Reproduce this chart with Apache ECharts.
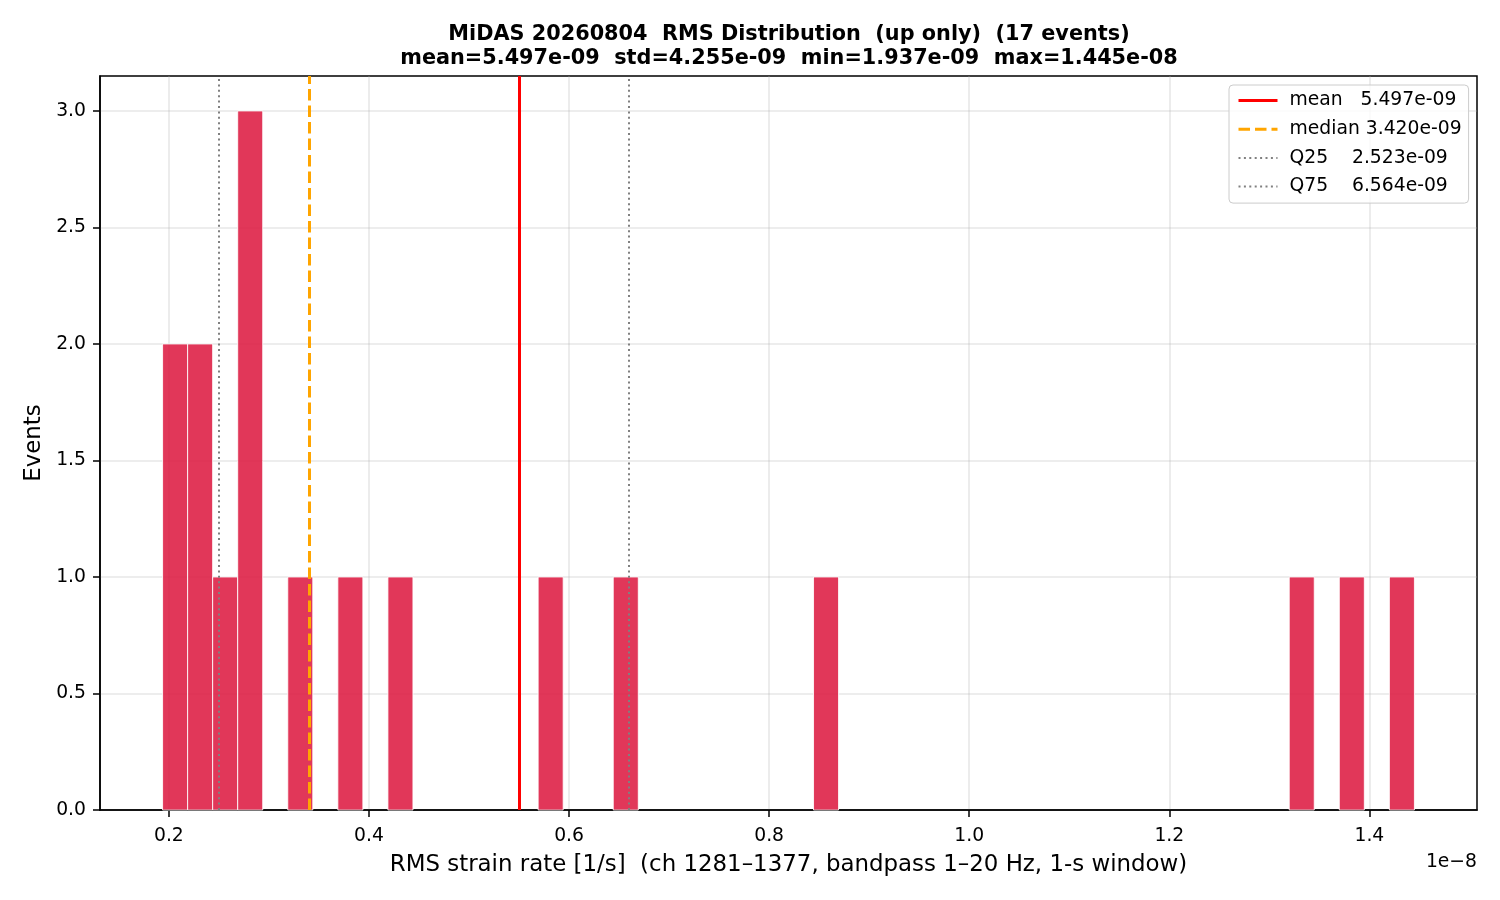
<!DOCTYPE html>
<html>
<head>
<meta charset="utf-8">
<title>MiDAS RMS Distribution</title>
<script src="https://cdn.jsdelivr.net/npm/echarts@6/dist/echarts.min.js"></script>
<style>
    html, body { margin: 0; padding: 0; background: #fff; }
    #chart { width: 1500px; height: 900px; }
</style>
</head>
<body>
<div id="chart"></div>
<script>
// histogram of RMS strain rate, 50 bins between min and max
var rmsMin = 1.937e-9;
var rmsMax = 1.445e-8;
var binCounts = [
    2, 2, 1, 3, 0, 1, 0, 1, 0, 1,
    0, 0, 0, 0, 0, 1, 0, 0, 1, 0,
    0, 0, 0, 0, 0, 0, 1, 0, 0, 0,
    0, 0, 0, 0, 0, 0, 0, 0, 0, 0,
    0, 0, 0, 0, 0, 1, 0, 1, 0, 1
];

// summary stats
var statNames = ['mean', 'median', 'Q25', 'Q75'];
var statValues = [5.497e-9, 3.420e-9, 2.523e-9, 6.564e-9];
var statStd = 4.255e-9;
var nEvents = 17;

// axis ticks (x in units of 1e-8)
var xTicks = [0.2, 0.4, 0.6, 0.8, 1.0, 1.2, 1.4];
var yTicks = [0, 0.5, 1.0, 1.5, 2.0, 2.5, 3.0];
var xScale = 1e-8;

var FONT = 'DejaVu Sans';

function fmtExp(v) {
    // 5.497e-9 -> 5.497e-09 (python style)
    return v.toExponential(3).replace(/e([+-])(\d)$/, 'e$10$2');
}

// build bars [x0, x1, count] from bin edges
var nBins = binCounts.length;
var binWidth = (rmsMax - rmsMin) / nBins;
var bars = [];
binCounts.forEach(function (c, i) {
    if (c > 0) {
        bars.push([(rmsMin + i * binWidth) / xScale, (rmsMin + (i + 1) * binWidth) / xScale, c]);
    }
});

var lo = rmsMin / xScale, hi = rmsMax / xScale;
var pad = (hi - lo) * 0.05;
var yMax = Math.max.apply(null, binCounts) * 1.05;

var statStyles = [
    { color: '#ff0000', width: 3, type: 'solid' },
    { color: '#ffa500', width: 3, type: [11.5, 5] },
    { color: '#808080', width: 2, type: [2, 3.4] },
    { color: '#808080', width: 2, type: [2, 3.4] }
];
var statLabels = [
    'mean   ' + fmtExp(statValues[0]),
    'median ' + fmtExp(statValues[1]),
    'Q25    ' + fmtExp(statValues[2]),
    'Q75    ' + fmtExp(statValues[3])
];

var chart = echarts.init(document.getElementById('chart'), null, { renderer: 'canvas' });

var series = [{
    type: 'custom',
    name: 'hist',
    data: bars,
    encode: { x: [0, 1], y: 2 },
    renderItem: function (params, api) {
        var p0 = api.coord([api.value(0), api.value(2)]);
        var p1 = api.coord([api.value(1), 0]);
        return {
            type: 'rect',
            shape: { x: p0[0], y: p0[1], width: p1[0] - p0[0], height: p1[1] - p0[1] },
            style: { fill: 'rgba(220,20,60,0.85)', stroke: 'rgba(255,255,255,0.85)', lineWidth: 1 }
        };
    }
}];

var legendData = [];
statNames.forEach(function (name, i) {
    var st = statStyles[i];
    series.push({
        type: 'line',
        name: statLabels[i],
        data: [],
        symbol: 'none',
        lineStyle: { color: st.color, width: st.width, type: st.type },
        // hide the symbol in the legend icon, keep only the line
        itemStyle: { color: st.color, opacity: 0 },
        markLine: {
            silent: true,
            symbol: 'none',
            animation: false,
            label: { show: false },
            lineStyle: { color: st.color, width: st.width, type: st.type, opacity: 1 },
            data: [{ xAxis: statValues[i] / xScale }]
        }
    });
    legendData.push({
        name: statLabels[i],
        lineStyle: { color: st.color, width: st.width, type: st.type }
    });
});

chart.setOption({
    animation: false,
    backgroundColor: '#ffffff',
    textStyle: { fontFamily: FONT },
    title: {
        text: 'MiDAS 20260804  RMS Distribution  (up only)  (' + nEvents + ' events)\n' +
              'mean=' + fmtExp(statValues[0]) + '  std=' + fmtExp(statStd) +
              '  min=' + fmtExp(rmsMin) + '  max=' + fmtExp(rmsMax),
        left: 789,
        top: 23,
        padding: 0,
        textAlign: 'center',
        textStyle: { fontFamily: FONT, fontSize: 20.8, fontWeight: 'bold', color: '#000', lineHeight: 23.5 }
    },
    legend: {
        orient: 'vertical',
        left: 1229,
        top: 85,
        padding: [6, 7, 7, 8],
        itemWidth: 39,
        itemHeight: 14,
        itemGap: 9.7,
        backgroundColor: 'rgba(255,255,255,0.8)',
        borderColor: '#cccccc',
        borderWidth: 1,
        borderRadius: 4,
        data: legendData,
        textStyle: { fontFamily: FONT, fontSize: 18.75, color: '#000', lineHeight: 19, padding: [0, 0, 0, 7] }
    },
    grid: {
        left: 100, right: 23, top: 76, bottom: 90,
        show: true,
        borderColor: '#000',
        borderWidth: 1.5,
        containLabel: false
    },
    xAxis: {
        type: 'value',
        min: lo - pad,
        max: hi + pad,
        name: 'RMS strain rate [1/s]  (ch 1281\u20131377, bandpass 1\u201320 Hz, 1-s window)',
        nameLocation: 'middle',
        nameGap: 44,
        nameTextStyle: { fontFamily: FONT, fontSize: 22.9, color: '#000' },
        axisLine: { show: true, lineStyle: { color: '#000', width: 1.5 } },
        axisTick: { show: true, length: 7, lineStyle: { color: '#000', width: 1.5 }, customValues: xTicks },
        axisLabel: {
            customValues: xTicks,
            margin: 17,
            fontFamily: FONT, fontSize: 18.75, color: '#000',
            formatter: function (v) { return v.toFixed(1); }
        },
        splitLine: { show: true, lineStyle: { color: 'rgba(176,176,176,0.3)', width: 1.6 } }
    },
    yAxis: {
        type: 'value',
        min: 0,
        max: yMax,
        name: 'Events',
        nameLocation: 'middle',
        nameGap: 53,
        nameTextStyle: { fontFamily: FONT, fontSize: 22.9, color: '#000' },
        axisLine: { show: true, lineStyle: { color: '#000', width: 1.5 } },
        axisTick: { show: true, length: 7, lineStyle: { color: '#000', width: 1.5 }, customValues: yTicks },
        axisLabel: {
            customValues: yTicks,
            margin: 14,
            fontFamily: FONT, fontSize: 18.75, color: '#000',
            formatter: function (v) { return v.toFixed(1); }
        },
        splitLine: { show: true, lineStyle: { color: 'rgba(176,176,176,0.3)', width: 1.6 } }
    },
    graphic: [{
        type: 'text',
        right: 23,
        top: 853,
        style: { text: '1e\u22128', fontFamily: FONT, fontSize: 18.75, fill: '#000' }
    }],
    series: series
});
</script>
</body>
</html>
